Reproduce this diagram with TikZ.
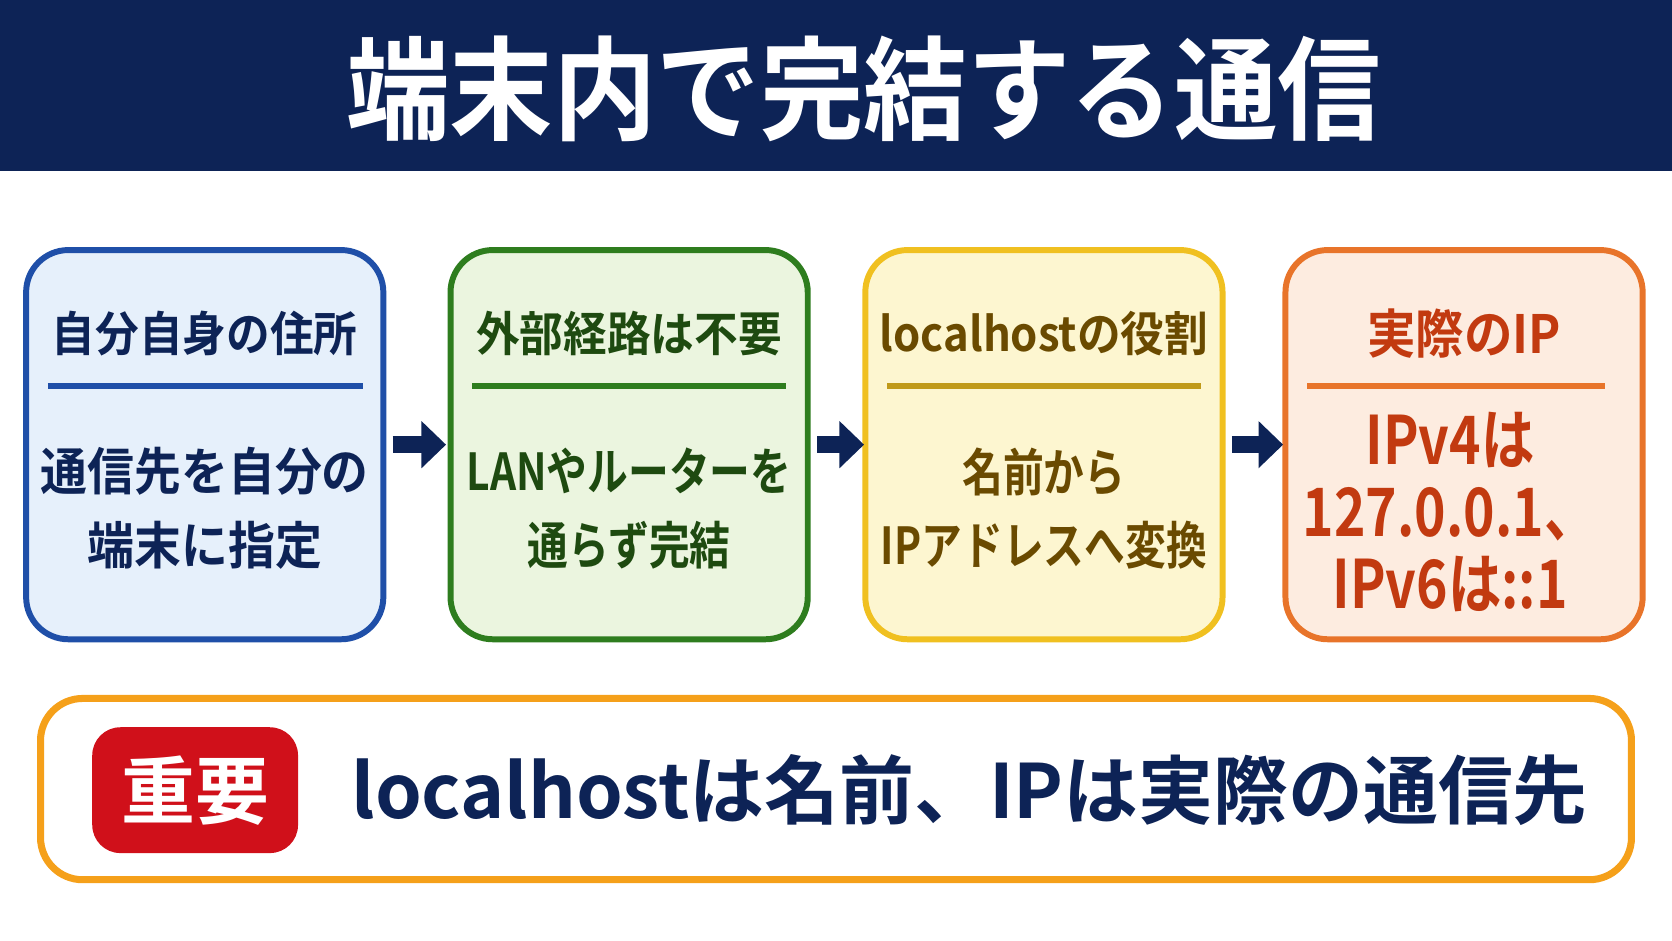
\documentclass[tikz,border=0pt]{standalone}
\usepackage{fontspec}
\setmainfont{Noto Sans CJK JP}[BoldFont={Noto Sans CJK JP Bold}]
\newfontfamily\jpnarrow{Noto Sans CJK JP}[BoldFont={Noto Sans CJK JP Bold},FakeStretch=0.92]
\newfontfamily\jpcond{Noto Sans CJK JP}[BoldFont={Noto Sans CJK JP Bold},FakeStretch=0.8]
\usetikzlibrary{positioning,arrows.meta}
\definecolor{navy}{HTML}{0D2356}
\definecolor{bBlue}{HTML}{1F4FA8}\definecolor{fBlue}{HTML}{E6F0FB}
\definecolor{bGreen}{HTML}{2E7D1E}\definecolor{fGreen}{HTML}{EBF5DF}\definecolor{tGreen}{HTML}{1E4A10}
\definecolor{bYellow}{HTML}{F0C020}\definecolor{fYellow}{HTML}{FDF6D0}\definecolor{tYellow}{HTML}{6A4A00}
\definecolor{bOrange}{HTML}{E8742A}\definecolor{fOrange}{HTML}{FDECE0}\definecolor{tOrange}{HTML}{C23A10}
\definecolor{bNote}{HTML}{F5A01A}\definecolor{tagRed}{HTML}{D0101A}
\tikzset{
  step/.style={draw=#1, line width=1.7pt, rounded corners=12pt, minimum width=335*0.10663mm, minimum height=365*0.10663mm},
  head/.style={font=\jpnarrow\bfseries\fontsize{13.5}{16}\selectfont, text=#1},
  body/.style={font=\jpcond\bfseries\fontsize{14.5}{21}\selectfont, text=#1, align=center},
  flow/.style={-{Triangle[length=7pt,width=13pt]}, line width=5pt, navy},
}
\begin{document}
\begin{tikzpicture}[x=0.10663mm, y=-0.10663mm]
  \useasboundingbox (0,0) rectangle (1568,882);
  % title bar
  \fill[navy] (0,0) rectangle (1568,160);
  \node[text=white, font=\jpnarrow\bfseries\fontsize{32}{36}\selectfont] (title) at (810,83) {端末内で完結する通信};

  % the four steps
  \node[step=bBlue, fill=fBlue] (s1) at (192,417) {};
  \node[step=bGreen, fill=fGreen] (s2) at (590,417) {};
  \node[step=bYellow, fill=fYellow] (s3) at (979,417) {};
  \node[step=bOrange, fill=fOrange] (s4) at (1373,417) {};

  \node[head=navy] (h1) at (192,313) {自分自身の住所};
  \node[head=tGreen] (h2) at (590,313) {外部経路は不要};
  \node[head=tYellow] (h3) at (979,313) {localhostの役割};
  \node[head=tOrange, font=\jpnarrow\bfseries\fontsize{15}{16}\selectfont] (h4) at (1373,313) {実際のIP};

  \draw[bBlue, line width=1.5pt] (45,362) -- (340,362);
  \draw[bGreen, line width=1.5pt] (443,362) -- (737,362);
  \draw[bYellow!80!black, line width=1.5pt] (832,362) -- (1126,362);
  \draw[bOrange, line width=1.5pt] (1226,362) -- (1505,362);

  \node[body=navy, font=\jpnarrow\bfseries\fontsize{14.5}{21}\selectfont] (b1) at (192,477) {通信先を自分の\\端末に指定};
  \node[body=tGreen] (b2) at (590,477) {LANやルーターを\\通らず完結};
  \node[body=tYellow] (b3) at (979,477) {名前から\\IPアドレスへ変換};
  \node[body=tOrange, font=\jpcond\bfseries\fontsize{19}{20.5}\selectfont] (b4) at (1360,480) {IPv4は\\127.0.0.1、\\IPv6は::1};

  \draw[flow] (s1.east) ++(6,0) coordinate (a1) -- ++(50,0);
  \draw[flow] (s2.east) ++(6,0) coordinate (a2) -- ++(44,0);
  \draw[flow] (s3.east) ++(6,0) coordinate (a3) -- ++(48,0);

  % key point
  \node[draw=bNote, line width=2pt, rounded corners=12pt, fill=white, minimum width=1492*0.10663mm, minimum height=170*0.10663mm] (note) at (784,740) {};
  \node[fill=tagRed, rounded corners=8pt, text=white, font=\bfseries\fontsize{21}{24}\selectfont, minimum width=193*0.10663mm, minimum height=118*0.10663mm] (tag) at (183,741) {重要};
  \node[text=navy, font=\bfseries\fontsize{21.3}{24}\selectfont, anchor=west] (key) at (318,741) {localhostは名前、IPは実際の通信先};
\end{tikzpicture}
\end{document}
